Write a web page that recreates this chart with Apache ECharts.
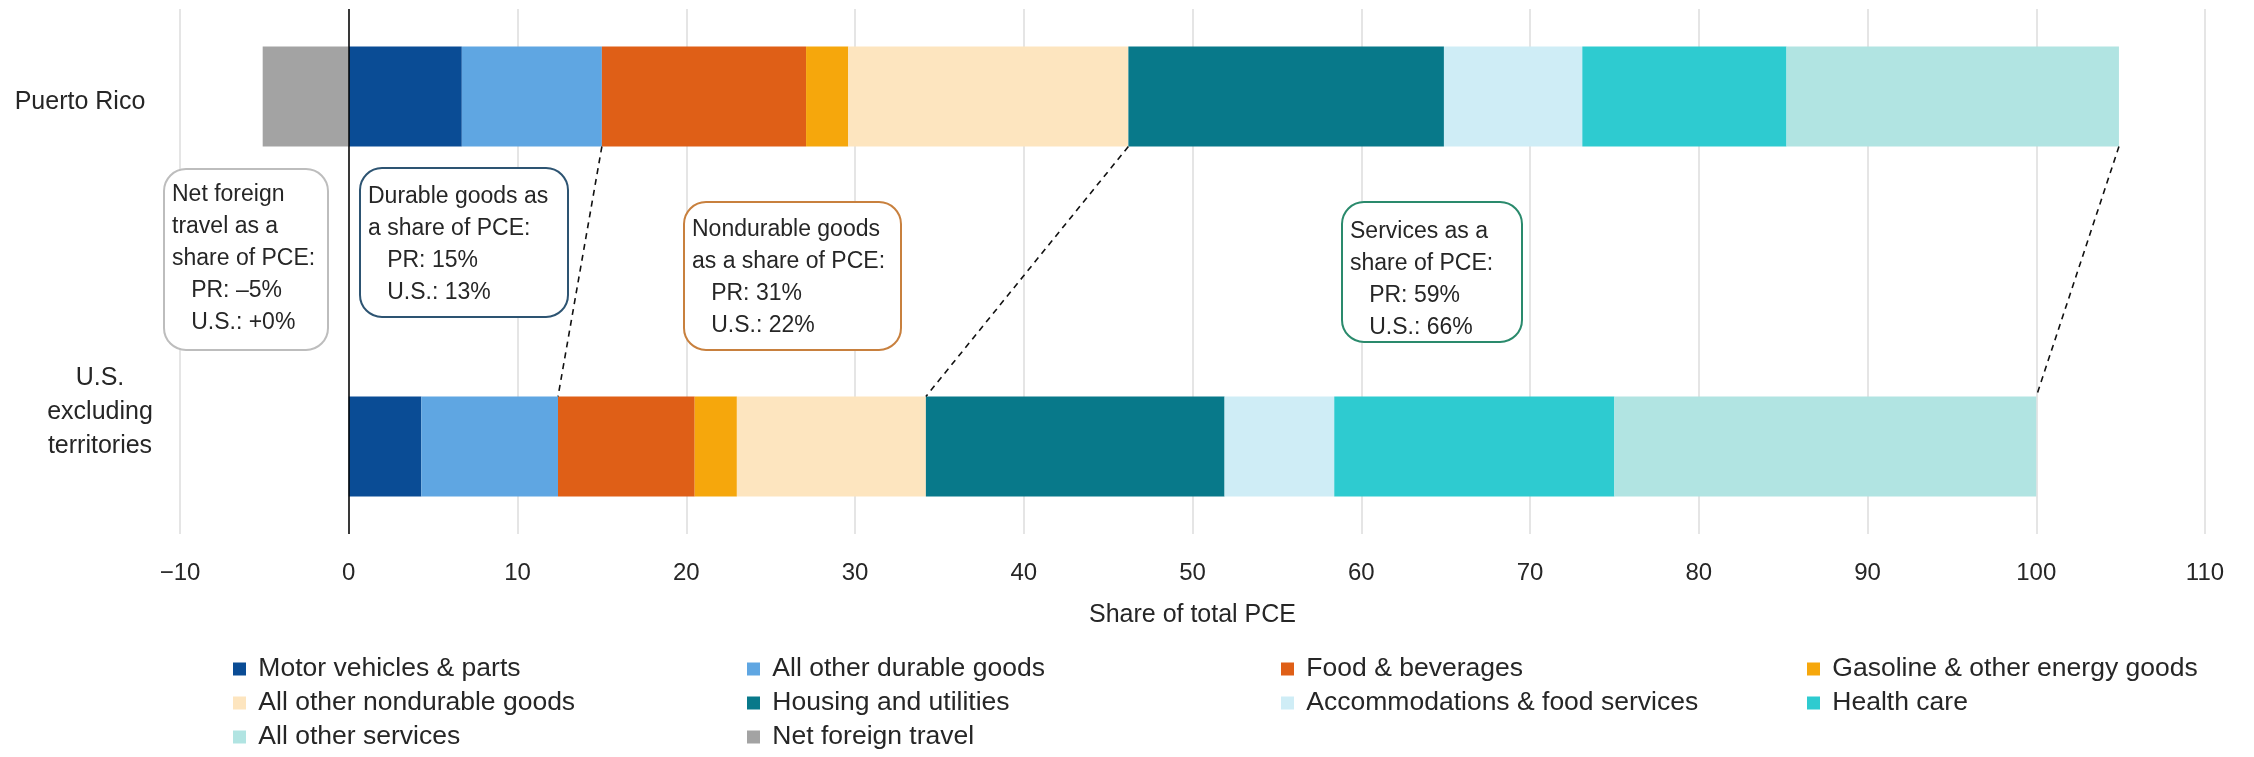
<!DOCTYPE html>
<html>
<head>
<meta charset="utf-8">
<title>Share of total PCE</title>
<script src="https://cdn.jsdelivr.net/npm/echarts@6/dist/echarts.min.js"></script>
<style>
  html, body { margin: 0; padding: 0; background: #fff; }
  #chart { width: 2254px; height: 757px; }
</style>
</head>
<body>
<div id="chart"></div>
<script>
// categories (middle one is an empty spacer row for the notes)
const regions = ['Puerto Rico', '', 'U.S.\nexcluding\nterritories'];

// share of total PCE, percent: [Puerto Rico, spacer, U.S.]
const motorVehicles = [6.7, '-', 4.3];
const otherDurable = [8.3, '-', 8.1];
const foodBeverages = [12.1, '-', 8.1];
const gasolineEnergy = [2.5, '-', 2.5];
const otherNondurable = [16.6, '-', 11.2];
const housingUtilities = [18.7, '-', 17.7];
const accommodations = [8.2, '-', 6.5];
const healthCare = [12.1, '-', 16.6];
const otherServices = [19.7, '-', 25.0];
const netForeignTravel = [-5.1, '-', 0];

const seriesNames = [
  'Motor vehicles & parts', 'All other durable goods', 'Food & beverages',
  'Gasoline & other energy goods', 'All other nondurable goods', 'Housing and utilities',
  'Accommodations & food services', 'Health care', 'All other services', 'Net foreign travel'
];
const seriesData = [
  motorVehicles, otherDurable, foodBeverages, gasolineEnergy, otherNondurable,
  housingUtilities, accommodations, healthCare, otherServices, netForeignTravel
];
const seriesColors = [
  '#0a4c95', '#5fa6e2', '#df5f17', '#f6a70c', '#fde5bf',
  '#08798a', '#cfedf6', '#2ecbd0', '#b1e4e2', '#a3a3a3'
];

// text boxes
const notes = [
  { text: 'Net foreign\ntravel as a\nshare of PCE:\n   PR: \u20135%\n   U.S.: +0%', x: 164, y: 169, w: 164, h: 181, tx: 172, ty: 179, border: '#bdbdbd' },
  { text: 'Durable goods as\na share of PCE:\n   PR: 15%\n   U.S.: 13%', x: 360, y: 168, w: 208, h: 149, tx: 368, ty: 181, border: '#2d5472' },
  { text: 'Nondurable goods\nas a share of PCE:\n   PR: 31%\n   U.S.: 22%', x: 684, y: 202, w: 217, h: 148, tx: 692, ty: 214, border: '#c8803e' },
  { text: 'Services as a\nshare of PCE:\n   PR: 59%\n   U.S.: 66%', x: 1342, y: 202, w: 180, h: 140, tx: 1350, ty: 216, border: '#2a8a6c' }
];

const FONT = "'Liberation Sans', Arial, sans-serif";
const TXT = '#262626';
const BAR_W = 100;

let myChart = echarts.init(document.getElementById('chart'));

const series = seriesNames.map((name, i) => ({
  name: name,
  type: 'bar',
  stack: 'pce',
  barWidth: BAR_W,
  data: seriesData[i],
  itemStyle: { color: seriesColors[i] },
  emphasis: { disabled: true },
}));
// zero line
series[0].markLine = {
  silent: true,
  symbol: 'none',
  label: { show: false },
  lineStyle: { color: '#000', width: 1.5, type: 'solid' },
  data: [{ xAxis: 0 }],
};

const legendCols = [
  { left: 233, names: [0, 4, 8] },
  { left: 747, names: [1, 5, 9] },
  { left: 1281, names: [2, 6] },
  { left: 1807, names: [3, 7] },
];

// category labels: PR a little left/low, U.S. block a little right/high (as in the source)
function regionLabel(v) {
  if (!v) return '';
  const lines = v.split('\n');
  if (lines.length === 1) return '{s| }\n{p|' + v + '}';
  return lines.map((s) => '{u|' + s + '}').join('\n') + '\n{b| }';
}

myChart.setOption({
  animation: false,
  grid: {
    left: 180,
    right: 49,
    top: 9,
    bottom: 223,
    outerBoundsMode: 'none',
  },
  xAxis: {
    type: 'value',
    min: -10,
    max: 110,
    interval: 10,
    name: 'Share of total PCE',
    nameLocation: 'middle',
    nameGap: 69,
    nameTextStyle: { fontFamily: FONT, fontSize: 25, color: TXT },
    axisLine: { show: false },
    axisTick: { show: false },
    axisLabel: {
      margin: 27,
      fontFamily: FONT,
      fontSize: 24,
      color: TXT,
      formatter: (v) => (v < 0 ? '\u2212' + Math.abs(v) : String(v)),
    },
    splitLine: { show: true, lineStyle: { color: '#dcdcdc', width: 1.5 } },
  },
  yAxis: {
    type: 'category',
    inverse: true,
    data: regions,
    axisLine: { show: false, onZero: false },
    axisTick: { show: false },
    splitLine: { show: false },
    axisLabel: {
      margin: 90,
      align: 'center',
      fontFamily: FONT,
      fontSize: 25,
      lineHeight: 34,
      color: TXT,
      formatter: regionLabel,
      rich: {
        p: { fontFamily: FONT, fontSize: 25, lineHeight: 34, color: TXT, padding: [0, 20, 0, 0] },
        u: { fontFamily: FONT, fontSize: 25, lineHeight: 34, color: TXT, padding: [0, 0, 0, 20] },
        s: { fontSize: 2, lineHeight: 12 },
        b: { fontSize: 2, lineHeight: 68 },
      },
    },
  },
  legend: legendCols.map((c) => ({
    orient: 'vertical',
    left: c.left,
    top: 654,
    padding: 0,
    icon: 'rect',
    itemWidth: 13,
    itemHeight: 13,
    itemGap: 4,
    formatter: ' {name}',
    selectedMode: false,
    data: c.names.map((k) => seriesNames[k]),
    textStyle: { fontFamily: FONT, fontSize: 26.5, lineHeight: 30, color: TXT },
  })),
  series: series,
});

// notes and dashed connectors
function cumulative(idx, upto) {
  let s = 0;
  for (let k = 0; k <= upto; k++) s += seriesData[k][idx];
  return s;
}
const groupEnds = [1, 4, 8]; // last series of durable, nondurable, services
const prMid = myChart.convertToPixel({ yAxisIndex: 0 }, regions[0]);
const usMid = myChart.convertToPixel({ yAxisIndex: 0 }, regions[2]);

const graphics = [];
groupEnds.forEach((g) => {
  const x1 = myChart.convertToPixel({ xAxisIndex: 0 }, cumulative(0, g));
  const x2 = myChart.convertToPixel({ xAxisIndex: 0 }, cumulative(2, g));
  graphics.push({
    type: 'line',
    silent: true,
    z: 10,
    shape: { x1: x1, y1: prMid + BAR_W / 2, x2: x2, y2: usMid - BAR_W / 2 },
    style: { stroke: '#111', lineWidth: 1.6, lineDash: [6, 5] },
  });
});
notes.forEach((n) => {
  graphics.push({
    type: 'rect',
    silent: true,
    z: 11,
    shape: { x: n.x, y: n.y, width: n.w, height: n.h, r: 22 },
    style: { fill: '#fff', stroke: n.border, lineWidth: 2 },
  });
  graphics.push({
    type: 'text',
    silent: true,
    z: 12,
    x: n.tx,
    y: n.ty,
    style: {
      text: n.text,
      fontFamily: FONT,
      fontSize: 23,
      lineHeight: 32,
      fill: TXT,
    },
  });
});
myChart.setOption({ graphic: graphics });

window.addEventListener('resize', () => {
  myChart.resize();
});
</script>
</body>
</html>
